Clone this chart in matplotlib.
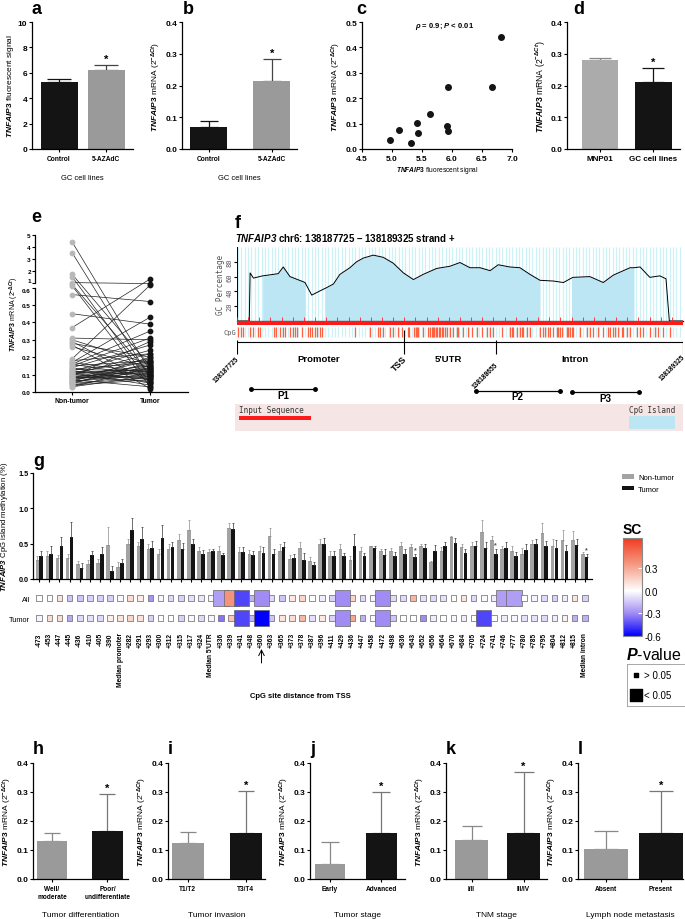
import numpy as np
import matplotlib
matplotlib.use('Agg')
import matplotlib.pyplot as plt
from matplotlib.colors import LinearSegmentedColormap, Normalize
from matplotlib.cm import ScalarMappable
from matplotlib.patches import Rectangle

plt.rcParams['font.family'] = ['Liberation Sans', 'DejaVu Sans']
plt.rcParams['font.weight'] = 'bold'
plt.rcParams['mathtext.fontset'] = 'custom'
plt.rcParams['mathtext.rm'] = 'Liberation Sans'
plt.rcParams['mathtext.it'] = 'Liberation Sans:italic'
plt.rcParams['mathtext.bf'] = 'Liberation Sans:bold'
if 'mathtext.bfit' in plt.rcParams:
    plt.rcParams['mathtext.bfit'] = 'Liberation Sans:bold:italic'
plt.rcParams['axes.linewidth'] = 0.9
plt.rcParams['xtick.major.width'] = 0.8
plt.rcParams['ytick.major.width'] = 0.8
plt.rcParams['xtick.major.size'] = 2.5
plt.rcParams['ytick.major.size'] = 2.5
plt.rcParams['xtick.major.pad'] = 1.5
plt.rcParams['ytick.major.pad'] = 1

W, H = 685, 920
GRAY = '#9a9a9a'
BLACK = '#141414'

# ---- a-d: cell lines ----
a_cats = ['Control', '5-AZAdC']
a_mean = [5.3, 6.2]
a_top = [5.55, 6.62]

b_cats = ['Control', '5-AZAdC']
b_mean = [0.07, 0.215]
b_top = [0.088, 0.282]

c_signal = [4.97, 5.11, 5.32, 5.41, 5.43, 5.64, 5.91, 5.93, 5.94, 6.67, 6.82]
c_mrna = [0.036, 0.075, 0.024, 0.103, 0.063, 0.136, 0.089, 0.070, 0.243, 0.243, 0.441]

d_cats = ['MNP01', 'GC cell lines']
d_mean = [0.28, 0.212]
d_top = [0.288, 0.256]

# ---- e: paired tissue ----
e_nontumor = [4.4, 3.5, 1.7, 1.5, 1.0, 0.85, 0.75, 0.56, 0.45, 0.37, 0.31, 0.30, 0.29, 0.28,
              0.27, 0.26, 0.19, 0.18, 0.17, 0.17, 0.16, 0.16, 0.15, 0.15, 0.14, 0.14, 0.13,
              0.13, 0.12, 0.12, 0.12, 0.11, 0.11, 0.11, 0.10, 0.10, 0.10, 0.09, 0.09, 0.09,
              0.08, 0.08, 0.08, 0.08, 0.07, 0.07, 0.07, 0.06, 0.06, 0.06, 0.05, 0.05, 0.05,
              0.04, 0.04, 0.03, 0.03]
e_tumor = [0.12, 0.08, 0.15, 0.05, 0.92, 0.10, 0.03, 0.52, 0.39, 1.3, 0.30, 0.16, 0.06, 0.20,
           0.02, 0.14, 0.80, 0.22, 0.43, 0.11, 0.35, 0.09, 0.31, 0.18, 0.05, 0.27, 0.12,
           0.17, 0.10, 0.24, 0.07, 0.19, 0.13, 0.04, 0.15, 0.22, 0.08, 0.12, 0.29, 0.06,
           0.14, 0.11, 0.18, 0.09, 0.16, 0.13, 0.03, 0.10, 0.20, 0.12, 0.15, 0.08, 0.17,
           0.11, 0.07, 0.14, 0.09]

# ---- f: CpG island map (bp from 138187725) ----
gc_pos = [0, 44, 47, 59, 92, 130, 148, 166, 190, 238, 244, 268, 310, 316, 346, 369, 405, 429,
          453, 489, 525, 561, 597, 633, 668, 716, 764, 800, 836, 872, 908, 937, 979, 1015,
          1051, 1087, 1135, 1171, 1200, 1206, 1266, 1314, 1350, 1386, 1410, 1424, 1446, 1481,
          1517, 1539, 1551, 1600]
gc_pct = [0, 0, 65, 58, 61, 63, 64, 73, 60, 53, 52, 35, 43, 44, 50, 63, 72, 80,
          85, 89, 86, 78, 65, 56, 63, 71, 74, 79, 72, 72, 68, 76, 73, 72,
          63, 55, 54, 52, 58, 59, 60, 52, 62, 68, 72, 72, 73, 59,
          61, 57, 0, 0]
islands = [(92, 244), (316, 1087), (1200, 1424)]
cpg_pos = [5, 13, 23, 47, 56, 76, 82, 133, 139, 154, 166, 172, 190, 202, 208, 216, 232, 256,
           262, 268, 280, 286, 298, 304, 423, 477, 507, 513, 525, 549, 558, 579, 591, 615,
           618, 635, 641, 645, 651, 668, 686, 692, 698, 704, 708, 714, 719, 725, 728, 734,
           740, 746, 752, 764, 776, 788, 794, 812, 830, 842, 860, 878, 896, 908, 920, 950,
           979, 985, 991, 1003, 1015, 1021, 1027, 1039, 1051, 1087, 1099, 1105, 1117, 1123,
           1135, 1147, 1153, 1159, 1165, 1183, 1189, 1195, 1201, 1207, 1230, 1254, 1266,
           1278, 1296, 1314, 1332, 1338, 1350, 1356, 1368, 1380, 1386, 1398, 1410, 1434,
           1446, 1458, 1481, 1499, 1511, 1529, 1553]
region_names = ['Promoter', "5'UTR", 'Intron']
region_mid = [292, 758, 1212]
coord_labels = ['138187725', '138188655', '138189325']
coord_pos = [0, 930, 1600]
tss_pos = 600
primer_names = ['P1', 'P2', 'P3']
primer_start = [52, 856, 1201]
primer_end = [280, 1159, 1443]

# ---- g: CpG site methylation ----
cpg_sites = ['-473', '-453', '-447', '-445', '-436', '-410', '-405', '-390', 'Median promoter',
             '+282', '+291', '+293', '+300', '+312', '+315', '+317', '+324', "Median 5'UTR",
             '+336', '+339', '+341', '+348', '+360', '+363', '+365', '+373', '+378', '+387',
             '+396', '+411', '+429', '+436', '+447', '+458', '+472', '+498', '+636', '+643',
             '+652', '+656', '+664', '+670', '+684', '+705', '+724', '+741', '+746', '+777',
             '+780', '+785', '+795', '+804', '+812', '+815', 'Median intron']
nt_mean = [0.27, 0.33, 0.30, 0.30, 0.21, 0.21, 0.22, 0.48, 0.17, 0.50, 0.46, 0.42, 0.35, 0.43,
           0.55, 0.70, 0.39, 0.38, 0.39, 0.72, 0.38, 0.36, 0.39, 0.61, 0.40, 0.29, 0.44, 0.26,
           0.49, 0.33, 0.43, 0.27, 0.40, 0.46, 0.40, 0.39, 0.46, 0.45, 0.46, 0.24, 0.40, 0.59,
           0.45, 0.46, 0.67, 0.55, 0.42, 0.40, 0.36, 0.49, 0.65, 0.47, 0.55, 0.55, 0.36]
nt_top = [0.33, 0.39, 0.34, 0.36, 0.26, 0.27, 0.28, 0.74, 0.24, 0.57, 0.53, 0.50, 0.42, 0.50,
          0.63, 0.83, 0.45, 0.43, 0.46, 0.79, 0.45, 0.41, 0.46, 0.72, 0.49, 0.34, 0.53, 0.31,
          0.57, 0.40, 0.49, 0.33, 0.45, 0.47, 0.43, 0.44, 0.52, 0.50, 0.50, 0.26, 0.45, 0.61,
          0.50, 0.53, 0.84, 0.61, 0.47, 0.46, 0.44, 0.55, 0.79, 0.56, 0.70, 0.68, 0.38]
t_mean = [0.32, 0.35, 0.46, 0.60, 0.15, 0.34, 0.35, 0.11, 0.23, 0.69, 0.56, 0.44, 0.58, 0.45,
          0.43, 0.50, 0.35, 0.39, 0.34, 0.71, 0.38, 0.34, 0.37, 0.35, 0.45, 0.30, 0.27, 0.20,
          0.50, 0.32, 0.32, 0.47, 0.32, 0.44, 0.34, 0.32, 0.36, 0.31, 0.44, 0.40, 0.46, 0.51,
          0.37, 0.46, 0.44, 0.36, 0.44, 0.32, 0.41, 0.49, 0.47, 0.44, 0.39, 0.48, 0.31]
t_top = [0.39, 0.46, 0.60, 0.80, 0.22, 0.40, 0.45, 0.18, 0.28, 0.86, 0.73, 0.54, 0.76, 0.52,
         0.51, 0.57, 0.41, 0.42, 0.37, 0.79, 0.45, 0.40, 0.45, 0.42, 0.53, 0.35, 0.37, 0.24,
         0.58, 0.40, 0.37, 0.63, 0.37, 0.46, 0.43, 0.38, 0.42, 0.35, 0.50, 0.48, 0.52, 0.58,
         0.42, 0.54, 0.52, 0.42, 0.53, 0.38, 0.50, 0.57, 0.54, 0.55, 0.48, 0.57, 0.35]
g_star = [37, 45, 54]
sc_all = [0.0, 0.0, 0.1, -0.15, -0.15, -0.12, -0.12, -0.12, -0.02, 0.12, 0.06, -0.28, -0.02,
          -0.1, -0.12, -0.08, -0.06, -0.03, -0.25, 0.38, -0.45, -0.2, -0.3, -0.1, -0.15, 0.08,
          0.15, 0.0, -0.05, -0.12, -0.3, 0.15, -0.1, -0.03, -0.3, -0.1, -0.1, 0.25, -0.08,
          -0.1, -0.08, 0.0, 0.1, -0.1, -0.02, -0.05, -0.25, -0.25, 0.0, -0.03, -0.1, -0.12,
          -0.05, 0.1, -0.12]
sc_tumor = [-0.03, 0.12, 0.12, -0.22, -0.1, -0.08, -0.1, 0.06, 0.1, 0.15, 0.1, -0.12, 0.0,
            0.0, -0.12, -0.02, -0.1, -0.03, -0.35, 0.2, -0.45, -0.2, -0.6, -0.15, 0.1, 0.12,
            0.25, -0.08, 0.08, -0.12, -0.3, 0.3, -0.2, -0.02, -0.3, -0.15, 0.0, 0.0, -0.3,
            -0.05, 0.0, -0.03, -0.05, 0.0, -0.45, 0.0, -0.05, -0.03, -0.08, -0.08, -0.1, -0.05,
            0.05, -0.2, -0.2]
sig_all = [18, 19, 20, 22, 30, 34, 46, 47]
sig_tumor = [20, 22, 30, 34, 44]

# ---- h-l: clinical groups ----
h_cats = ['Well/\nmoderate', 'Poor/\nundifferentiate']
h_mean = [0.13, 0.165]
h_top = [0.16, 0.292]
i_cats = ['T1/T2', 'T3/T4']
i_mean = [0.125, 0.16]
i_top = [0.163, 0.305]
j_cats = ['Early', 'Advanced']
j_mean = [0.052, 0.16]
j_top = [0.126, 0.30]
k_cats = ['I/II', 'III/IV']
k_mean = [0.135, 0.16]
k_top = [0.182, 0.369]
l_cats = ['Absent', 'Present']
l_mean = [0.105, 0.16]
l_top = [0.165, 0.304]

MRNA = r'$\it{TNFAIP3}$ mRNA (2$^{-\Delta Ct}$)'


def box(x0, y0, x1, y1):
    return [x0 / W, 1 - y1 / H, (x1 - x0) / W, (y1 - y0) / H]


def letter(x, y, s):
    fig.text(x / W, 1 - y / H, s, fontsize=13, fontweight='bold', va='center', ha='left')


def bar_panel(ax, cats, means, tops, colors, ecolors, width, xlim, ylim, yticks, ylabel,
              xlabel, label_y, cat_fs=4.8, tick_fs=6, ylab_fs=6, xlab_fs=5.6):
    x = np.arange(len(cats))
    ax.bar(x, means, width=width, color=colors, zorder=2)
    for xi, m, t, ec in zip(x, means, tops, ecolors):
        ax.errorbar(xi, m, yerr=[[0], [t - m]], fmt='none', ecolor=ec, elinewidth=0.9,
                    capsize=width * 11, capthick=0.9, zorder=1)
    ax.text(x[-1], tops[-1] + (ylim[1] - ylim[0]) * 0.01, '*', ha='center', va='bottom',
            fontsize=8)
    ax.set_xlim(*xlim)
    ax.set_ylim(*ylim)
    ax.set_yticks(yticks)
    ax.set_xticks(x)
    ax.set_xticklabels(cats, fontsize=cat_fs)
    ax.tick_params(axis='y', labelsize=tick_fs)
    ax.spines[['top', 'right']].set_visible(False)
    ax.set_ylabel(ylabel, fontsize=ylab_fs, fontweight='normal', labelpad=1.5)
    ax.set_xlabel(xlabel, fontsize=xlab_fs)
    ax.xaxis.set_label_coords(0.5, label_y)


fig = plt.figure(figsize=(W / 100, H / 100), dpi=100)

# a
ax = fig.add_axes(box(32, 23, 133, 150))
bar_panel(ax, a_cats, a_mean, a_top, [BLACK, GRAY], [BLACK, '#444444'], 0.78, (-0.57, 1.56),
          (0, 10), [0, 2, 4, 6, 8, 10], r'$\it{TNFAIP3}$ fluorescent signal', 'GC cell lines',
          -0.2, xlab_fs=5.4)
letter(32, 10, 'a')

# b
ax = fig.add_axes(box(182, 23, 297, 150))
bar_panel(ax, b_cats, b_mean, b_top, [BLACK, GRAY], [BLACK, '#444444'], 0.59, (-0.42, 1.4),
          (0, 0.4), [0, 0.1, 0.2, 0.3, 0.4], MRNA, 'GC cell lines', -0.2, xlab_fs=5.4)
ax.set_yticklabels(['0.0', '0.1', '0.2', '0.3', '0.4'])
letter(183, 10, 'b')

# c
ax = fig.add_axes(box(362, 23, 512, 150))
ax.scatter(c_signal, c_mrna, s=16, color=BLACK, zorder=3, clip_on=False)
ax.set_xlim(4.5, 7.0)
ax.set_ylim(0, 0.5)
ax.set_xticks([4.5, 5.0, 5.5, 6.0, 6.5, 7.0])
ax.set_yticks([0, 0.1, 0.2, 0.3, 0.4, 0.5])
ax.set_yticklabels(['0.0', '0.1', '0.2', '0.3', '0.4', '0.5'])
ax.tick_params(labelsize=6)
ax.spines[['top', 'right']].set_visible(False)
ax.set_ylabel(MRNA, fontsize=6, fontweight='normal', labelpad=1.5)
ax.set_xlabel(r'$\it{TNFAIP3}$ fluorescent signal', fontsize=4.8, fontweight='normal',
              labelpad=2)
ax.text(0.55, 0.97, r'$\it{\rho}$ = 0.9; $\it{P}$ < 0.01', transform=ax.transAxes,
        ha='center', va='center', fontsize=5.5)
letter(356, 10, 'c')

# d
ax = fig.add_axes(box(567, 23, 680, 150))
bar_panel(ax, d_cats, d_mean, d_top, ['#ababab', BLACK], ['#888888', BLACK], 0.69, (-0.62, 1.5),
          (0, 0.4), [0, 0.1, 0.2, 0.3, 0.4], MRNA, '', -0.2, cat_fs=5.8, ylab_fs=6.2)
ax.set_yticklabels(['0.0', '0.1', '0.2', '0.3', '0.4'])
letter(573, 10, 'd')


# e: broken y axis as a piecewise scale
def e_fwd(y):
    y = np.asarray(y, dtype=float)
    return np.where(y <= 0.6, y * 174,
                    np.where(y < 1, 104.4 + (y - 0.6) * 12.5, 109.4 + (y - 1) * 12))


def e_inv(v):
    v = np.asarray(v, dtype=float)
    return np.where(v <= 104.4, v / 174,
                    np.where(v < 109.4, 0.6 + (v - 104.4) / 12.5, 1 + (v - 109.4) / 12))


ax = fig.add_axes(box(35, 235.6, 188, 393))
ax.set_yscale('function', functions=(e_fwd, e_inv))
for nt, tu in zip(e_nontumor, e_tumor):
    ax.plot([0, 1], [nt, tu], color='#222222', lw=0.5, zorder=1)
ax.scatter(np.zeros(len(e_nontumor)), e_nontumor, s=10, color='#b8b8b8', zorder=2, clip_on=False)
ax.scatter(np.ones(len(e_tumor)), e_tumor, s=10, color=BLACK, zorder=2, clip_on=False)
ax.set_xlim(-0.475, 1.486)
ax.set_ylim(0, 5)
ax.set_yticks([0, 0.1, 0.2, 0.3, 0.4, 0.5, 0.6, 1, 2, 3, 4, 5])
ax.set_yticklabels(['0.0', '0.1', '0.2', '0.3', '0.4', '0.5', '0.6', '1', '2', '3', '4', '5'])
ax.set_xticks([0, 1])
ax.set_xticklabels(['Non-tumor', 'Tumor'], fontsize=4.9)
ax.tick_params(axis='y', labelsize=4.6, length=2)
ax.tick_params(axis='x', length=2)
tl = ax.get_yticklabels()
tl[6].set_va('top')
tl[7].set_va('bottom')
ax.spines[['top', 'right', 'left']].set_visible(False)
ytr = ax.get_yaxis_transform()
ax.plot([0, 0], [0, 0.6], color='k', lw=0.9, transform=ytr, clip_on=False)
ax.plot([0, 0], [1, 5], color='k', lw=0.9, transform=ytr, clip_on=False)
ax.set_ylabel(MRNA, fontsize=5, labelpad=1)
letter(31, 218, 'e')

# f: GC percentage track
letter(235, 223, 'f')
fig.text(235 / W, 1 - 238 / H, r'$\mathbfit{TNFAIP3}$ chr6: 138187725 – 138189325 strand +',
         fontsize=7, fontweight='bold', va='center')
gc_x = np.array(gc_pos)
gc_y = np.array(gc_pct)
stripes = np.arange(4, 1600, 12)
ax = fig.add_axes(box(237, 248, 683, 322))
ax.vlines(stripes, 0, 100, color='#cdf1f6', lw=0.9, zorder=0)
for a, b in islands:
    ax.fill_between(gc_x, gc_y, where=(gc_x >= a) & (gc_x <= b), color='#bde6f5', lw=0,
                    zorder=1)
ax.plot(gc_x, gc_y, color='k', lw=0.7, zorder=3)
ax.vlines(np.arange(0, 1601, 40), 0, 5, color='#ff2020', lw=0.6, zorder=3)
ax.set_xlim(0, 1600)
ax.set_ylim(0, 100)
ax.set_xticks([])
ax.set_yticks([20, 40, 60, 80])
ax.set_yticklabels(['20', '40', '60', '80'], rotation=90, va='center', family='DejaVu Sans Mono',
                   fontweight='normal', color='#555555')
ax.tick_params(axis='y', labelsize=5, length=2, pad=1)
ax.spines[['top', 'right']].set_visible(False)
ax.spines['left'].set_linewidth(0.7)
ax.set_ylabel('GC Percentage', family='DejaVu Sans Mono', fontweight='normal', fontsize=5.5,
              color='#555555', labelpad=1)

# f: CpG sites and gene structure
ax = fig.add_axes(box(237, 322, 683, 402))
ax.set_xlim(0, 1600)
ax.set_ylim(80, 0)
ax.axis('off')
ax.fill_between([0, 1600], 0, 3.5, color='#ff1a1a', lw=0)
ax.vlines(stripes, 6, 16, color='#cdf1f6', lw=0.9)
ax.vlines(cpg_pos, 6, 16, color='#ff6040', lw=0.9)
ax.text(-3, 11, 'CpG', ha='right', va='center', family='DejaVu Sans Mono', fontweight='normal',
        fontsize=5, color='#555555')
ax.plot([0, 1600], [21, 21], color='k', lw=0.8)
ax.vlines(coord_pos, 19, 33, color='k', lw=0.8)
ax.vlines(tss_pos, 9, 33, color='k', lw=0.8)
for name, mid in zip(region_names, region_mid):
    ax.text(mid, 37, name, ha='center', va='center', fontsize=6.8)
ax.text(tss_pos + 5, 36, 'TSS', rotation=45, rotation_mode='anchor', ha='right', va='center',
        fontsize=6.5)
for lab, p, yy in zip(coord_labels, coord_pos, [36, 42, 34]):
    ax.text(p + 4, yy, lab, rotation=45, rotation_mode='anchor', ha='right', va='center',
            fontsize=4.8)
for name, s, e, yy in zip(primer_names, primer_start, primer_end, [68, 69.5, 70.5]):
    ax.plot([s, e], [yy, yy], color='k', lw=0.9, marker='o', markersize=2.5, clip_on=False)
    ax.text((s + e) / 2, yy + 6, name, ha='center', va='center', fontsize=7)

# f: legend strip
ax = fig.add_axes(box(235, 405, 683, 432))
ax.set_xlim(235, 683)
ax.set_ylim(432, 405)
ax.set_facecolor('#f6e5e5')
for sp in ax.spines.values():
    sp.set_visible(False)
ax.set_xticks([])
ax.set_yticks([])
ax.text(239, 410.5, 'Input Sequence', family='DejaVu Sans Mono', fontweight='normal',
        fontsize=5.5, va='center', color='#333333')
ax.add_patch(Rectangle((239, 416.5), 72, 4, color='#ff1a1a', lw=0))
ax.text(629, 410.5, 'CpG Island', family='DejaVu Sans Mono', fontweight='normal', fontsize=5.5,
        va='center', color='#333333')
ax.add_patch(Rectangle((629, 417), 46, 13, color='#bde6f5', lw=0))

# g: bars
n = len(cpg_sites)
x = np.arange(n)
nt_mean = np.array(nt_mean)
t_mean = np.array(t_mean)
ax = fig.add_axes(box(33, 474, 592, 580))
h_nt = ax.bar(x - 0.19, nt_mean, 0.36, color='#a3a3a3')
h_t = ax.bar(x + 0.19, t_mean, 0.36, color=BLACK)
ax.errorbar(x - 0.19, nt_mean, yerr=[np.zeros(n), np.array(nt_top) - nt_mean], fmt='none',
            ecolor='#8c8c8c', elinewidth=0.5, capsize=0.8, capthick=0.5)
ax.errorbar(x + 0.19, t_mean, yerr=[np.zeros(n), np.array(t_top) - t_mean], fmt='none',
            ecolor='#333333', elinewidth=0.5, capsize=0.8, capthick=0.5)
for i in g_star:
    ax.text(i + 0.2, t_top[i] + 0.06, '*', ha='center', va='center', fontsize=5, color='#555555')
ax.set_xlim(-0.62, 54.72)
ax.set_ylim(0, 1.5)
ax.set_yticks([0, 0.5, 1.0, 1.5])
ax.set_yticklabels(['0.0', '0.5', '1.0', '1.5'])
ax.set_xticks(x)
ax.set_xticklabels([])
ax.tick_params(labelsize=5.2, length=2)
ax.spines[['top', 'right']].set_visible(False)
ax.set_ylabel(r'$\mathbfit{TNFAIP3}$ CpG island methylation (%)', fontsize=5.6, labelpad=2)
ax.yaxis.set_label_coords(-0.042, 0.5)
letter(33, 462, 'g')
fig.legend([h_nt, h_t], ['Non-tumor', 'Tumor'], loc='upper left',
           bbox_to_anchor=(619 / W, 1 - 472 / H), frameon=False,
           prop={'size': 5.5, 'weight': 'normal'}, handlelength=1.5, handleheight=0.5,
           labelspacing=0.6, borderaxespad=0, handletextpad=0.6)

# g: spearman coefficient cells
cmap = LinearSegmentedColormap.from_list(
    'sc', [(0.0, '#0000ff'), (0.2308, '#a08cf2'), (0.4615, '#ffffff'), (0.7308, '#f59a82'),
           (1.0, '#f03a20')])
norm = Normalize(-0.6, 0.7)
ax = fig.add_axes(box(33, 589, 592, 629))
size_all = [120 if i in sig_all else 17 for i in range(n)]
size_tum = [120 if i in sig_tumor else 17 for i in range(n)]
ax.scatter(x, np.ones(n), s=size_all, c=sc_all, cmap=cmap, norm=norm, marker='s',
           edgecolors='#666666', linewidths=0.5, clip_on=False)
ax.scatter(x, np.zeros(n), s=size_tum, c=sc_tumor, cmap=cmap, norm=norm, marker='s',
           edgecolors='#666666', linewidths=0.5, clip_on=False)
ax.set_xlim(-0.62, 54.72)
ax.set_ylim(-0.5, 1.5)
for sp in ax.spines.values():
    sp.set_visible(False)
ax.set_yticks([1, 0])
ax.set_yticklabels(['All', 'Tumor'], fontweight='normal')
ax.set_xticks(x)
ax.set_xticklabels(cpg_sites, rotation=90, va='top', ha='center')
ax.tick_params(axis='x', length=0, labelsize=4.8, pad=3)
ax.tick_params(axis='y', length=0, labelsize=5.3, pad=2)
ax.annotate('', xy=(22, 1 - 650 / H), xycoords=('data', 'figure fraction'),
            xytext=(22, 1 - 664 / H), textcoords=('data', 'figure fraction'),
            arrowprops=dict(arrowstyle='->', lw=0.7, color='k', shrinkA=0, shrinkB=0))
fig.text(300 / W, 1 - 697 / H, 'CpG site distance from TSS', fontsize=5.5, ha='center',
         va='center')

# colorbar
cax = fig.add_axes(box(623, 539, 642, 637))
cb = fig.colorbar(ScalarMappable(norm=norm, cmap=cmap), cax=cax, ticks=[0.3, 0.0, -0.3, -0.6])
cb.ax.set_yticklabels(['0.3', '0.0', '-0.3', '-0.6'], fontweight='normal')
cb.ax.tick_params(direction='in', color='white', length=3, labelsize=7, pad=2)
cb.outline.set_edgecolor('#888888')
cb.outline.set_linewidth(0.8)
fig.text(632 / W, 1 - 530 / H, 'SC', fontsize=10, fontweight='bold', ha='center', va='center')

# P-value legend
fig.text(626 / W, 1 - 655 / H, r'$\it{P}$-value', fontsize=11.5, fontweight='normal',
         va='center')
pax = fig.add_axes(box(627, 665, 685, 707))
pax.set_xlim(627, 685)
pax.set_ylim(707, 665)
pax.set_xticks([])
pax.set_yticks([])
pax.spines['right'].set_visible(False)
for sp in pax.spines.values():
    sp.set_edgecolor('#999999')
    sp.set_linewidth(0.6)
pax.scatter([636, 636], [676, 696], s=[12, 80], marker='s', color='k')
pax.text(644, 676, '> 0.05', fontsize=7, fontweight='normal', va='center')
pax.text(644, 696, '< 0.05', fontsize=7, fontweight='normal', va='center')

# h-l
panels = [
    ('h', 33, 128, h_cats, h_mean, h_top, 'Tumor differentiation', (-0.34, 1.37), 0.55),
    ('i', 168, 265, i_cats, i_mean, i_top, 'Tumor invasion', (-0.34, 1.33), 0.55),
    ('j', 310, 405, j_cats, j_mean, j_top, 'Tumor stage', (-0.39, 1.46), 0.6),
    ('k', 446, 547, k_cats, k_mean, k_top, 'TNM stage', (-0.49, 1.45), 0.63),
    ('l', 578, 683, l_cats, l_mean, l_top, 'Lymph node metastasis', (-0.5, 1.4), 0.8),
]
for lab, x0, x1, cats, means, tops, xl, xlim, wd in panels:
    ax = fig.add_axes(box(x0, 764, x1, 880))
    bar_panel(ax, cats, means, tops, [GRAY, BLACK], ['#888888', '#777777'], wd, xlim, (0, 0.4),
              [0, 0.1, 0.2, 0.3, 0.4], MRNA, xl, -0.28, cat_fs=4.7, tick_fs=6, ylab_fs=6,
              xlab_fs=6)
    ax.set_yticklabels(['0.0', '0.1', '0.2', '0.3', '0.4'])
    letter(x0, 750, lab)

fig.savefig('out.png', dpi=100)
